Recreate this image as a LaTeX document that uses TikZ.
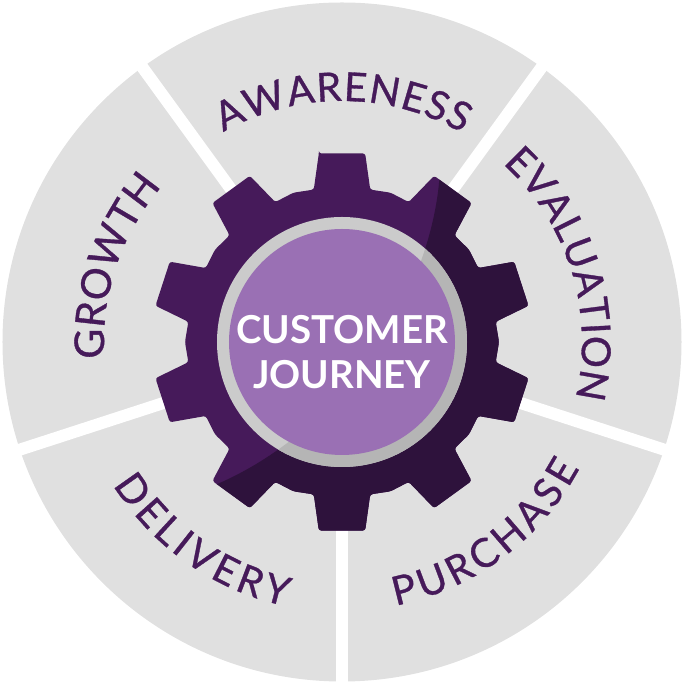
\documentclass[tikz,border=0pt]{standalone}
\usepackage{fontspec}
\setmainfont{Lato}
\newfontfamily\labelface[FakeBold=0.8]{Lato}
\usetikzlibrary{decorations.text}
\definecolor{sectorgray}{HTML}{E0E0E0}
\definecolor{gearlight}{HTML}{461A5A}
\definecolor{geardark}{HTML}{2E123C}
\definecolor{ringlight}{HTML}{CBCBCB}
\definecolor{ringdark}{HTML}{B5B5B5}
\definecolor{hubfill}{HTML}{9A70B4}
\newcommand{\labelfont}[1]{\labelface\fontsize{#1}{#1}\selectfont\color{gearlight}}
\newcommand{\gearpath}{(90+7:190)
    \foreach \a in {90,54,...,-234} {
    -- (\a-7:190) -- (\a-10.5:155) -- (\a-18:157) -- (\a-25.5:155) -- (\a-29:190)
    }}
\newcommand{\shadepath}{(98,172) .. controls (92,52) and (3,-88) .. (-127,-143)
    -- (-127,-300) -- (300,-300) -- (300,172) -- cycle}
\begin{document}
\begin{tikzpicture}[x=1pt,y=1pt,
    gapline/.style={draw=white, line width=12pt},
    arclabel/.style 2 args={postaction={decorate}, decoration={text along path,
        text={|\labelfont{#1}|#2}, text align={fit to path}}}
    ]
\useasboundingbox (-342,-342) rectangle (343,342);

\fill[sectorgray] (0,0) circle (339.5);
\foreach \a in {54,126,270}
    \draw[gapline] (0,0) -- (\a:346);
\foreach \a in {198,342}
    \draw[gapline] (0,-3) -- ++(\a:346);

\fill[gearlight, rounded corners=2.5pt] \gearpath -- cycle;
\begin{scope}
    \clip[rounded corners=2.5pt] \gearpath -- cycle;
    \fill[geardark] \shadepath;
\end{scope}

\fill[ringlight] (0,0) circle (125);
\begin{scope}
    \clip (0,0) circle (125);
    \fill[ringdark] \shadepath;
\end{scope}
\fill[hubfill] (0,0) circle (113);

\node[white, font=\fontsize{38.5}{45}\selectfont\bfseries, align=center] (hub) at (0,-10)
    {CUSTOMER\\JOURNEY};

\path[arclabel={40}{AWARENESS}] (119.5:241) arc[start angle=119.5, end angle=60, radius=241pt];
\path[arclabel={40}{EVALUATION}] (48:240) arc[start angle=48, end angle=-13.5, radius=240pt];
\path[arclabel={41}{GROWTH}] (184:238) arc[start angle=184, end angle=139.5, radius=238pt];
\path[arclabel={40}{PURCHASE}] (-78.5:269) arc[start angle=-78.5, end angle=-28, radius=269pt];
\path[arclabel={40}{DELIVERY}] (212:270) arc[start angle=212, end angle=258, radius=270pt];
\end{tikzpicture}
\end{document}
